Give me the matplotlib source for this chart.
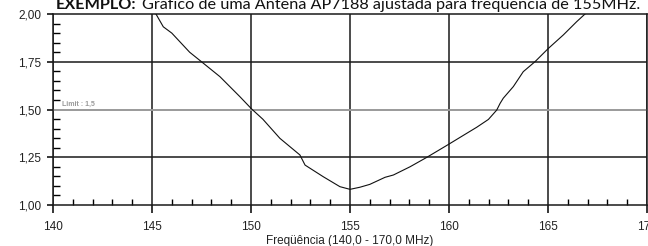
import matplotlib
matplotlib.use("Agg")
import matplotlib.pyplot as plt
from matplotlib.ticker import MultipleLocator, FixedLocator

freq = [145.2, 145.57, 146.0, 146.9, 147.5, 148.43, 149.44, 150.03, 150.6, 151.46,
        152.47, 152.73, 153.65, 154.49, 155.0, 155.5, 156.0, 156.77, 157.19, 158.03,
        158.87, 159.97, 160.89, 161.4, 161.99, 162.41, 162.58, 162.74, 163.25, 163.75,
        164.34, 165.02, 165.77, 166.45, 166.87]
swr = [2.0, 1.933, 1.90, 1.80, 1.75, 1.672, 1.567, 1.503, 1.449, 1.349,
       1.262, 1.209, 1.148, 1.096, 1.082, 1.093, 1.108, 1.145, 1.157, 1.20,
       1.249, 1.317, 1.375, 1.407, 1.448, 1.497, 1.532, 1.559, 1.62, 1.698,
       1.75, 1.82, 1.89, 1.96, 2.00]
xticks = [140, 145, 150, 155, 160, 165, 170]
yticks = [1.00, 1.25, 1.50, 1.75, 2.00]
ytick_labels = ["1,00", "1,25", "1,50", "1,75", "2,00"]
limit = 1.5
limit_label = "Limit : 1,5"
title_bold = "EXEMPLO:"
title_rest = "Gráfico de uma Antena AP7188 ajustada para frequência de 155MHz."
xlabel = "Freqüência (140,0 - 170,0 MHz)"

W, H = 648, 246
fig = plt.figure(figsize=(W / 100, H / 100), dpi=100)
ax = fig.add_axes([53 / W, 1 - 205 / H, 594 / W, 191 / H])
ax.set_xlim(140, 170)
ax.set_ylim(1.0, 2.0)

for x in xticks:
    ax.axvline(x, color="#1a1a1a", lw=1.1, zorder=1)
for y in [1.25, 1.75]:
    ax.axhline(y, color="#1a1a1a", lw=1.1, zorder=1)
ax.axhline(limit, color="#9a9a9a", lw=1.4, zorder=1)
ax.text(140.45, limit + 0.01, limit_label, fontsize=5, color="#999999",
        fontweight="bold", family="Liberation Sans", va="bottom", ha="left")

ax.plot(freq, swr, color="#111111", lw=0.8, zorder=3)

ax.xaxis.set_major_locator(FixedLocator(xticks))
ax.xaxis.set_minor_locator(MultipleLocator(1))
ax.yaxis.set_major_locator(FixedLocator(yticks))
ax.yaxis.set_minor_locator(MultipleLocator(0.05))
ax.set_xticklabels([str(v) for v in xticks])
ax.set_yticklabels(ytick_labels)
for lbl in ax.get_xticklabels() + ax.get_yticklabels():
    lbl.set_family("Liberation Sans")
    lbl.set_fontsize(8.5)
    lbl.set_color("#222222")
ax.tick_params(axis="x", which="major", direction="out", length=6, width=1.1, pad=5.5)
ax.tick_params(axis="y", which="major", direction="out", length=4.3, width=1.1, pad=4)
ax.tick_params(axis="x", which="minor", direction="in", length=4.5, width=1.0)
ax.tick_params(axis="y", which="minor", direction="in", length=5, width=1.0)
for s in ax.spines.values():
    s.set_linewidth(1.1)
    s.set_color("#1a1a1a")

ax.set_xlabel(xlabel, family="Liberation Sans", fontsize=8.5, color="#222222", labelpad=1.5)

# title (fit to measured width)
fig.canvas.draw()
r = fig.canvas.get_renderer()
fs = 9.5
x0 = 56 / W
ybase = 1 - 9 / H
t1 = fig.text(x0, ybase, title_bold, fontsize=fs, fontweight="bold", family="Lato",
              va="baseline", ha="left", color="#111111")
bb1 = t1.get_window_extent(r)
t2 = fig.text(bb1.x1 / W + 5 / W, ybase, title_rest, fontsize=fs, family="Lato",
              va="baseline", ha="left", color="#111111")
bb2 = t2.get_window_extent(r)
total = bb2.x1 - bb1.x0
scale = 589 / total
fs2 = fs * scale
t1.set_fontsize(fs2)
bb1 = t1.get_window_extent(r)
t2.set_fontsize(fs2)
t2.set_x(bb1.x1 / W + 5 / W)

fig.savefig("out.png", dpi=100)
